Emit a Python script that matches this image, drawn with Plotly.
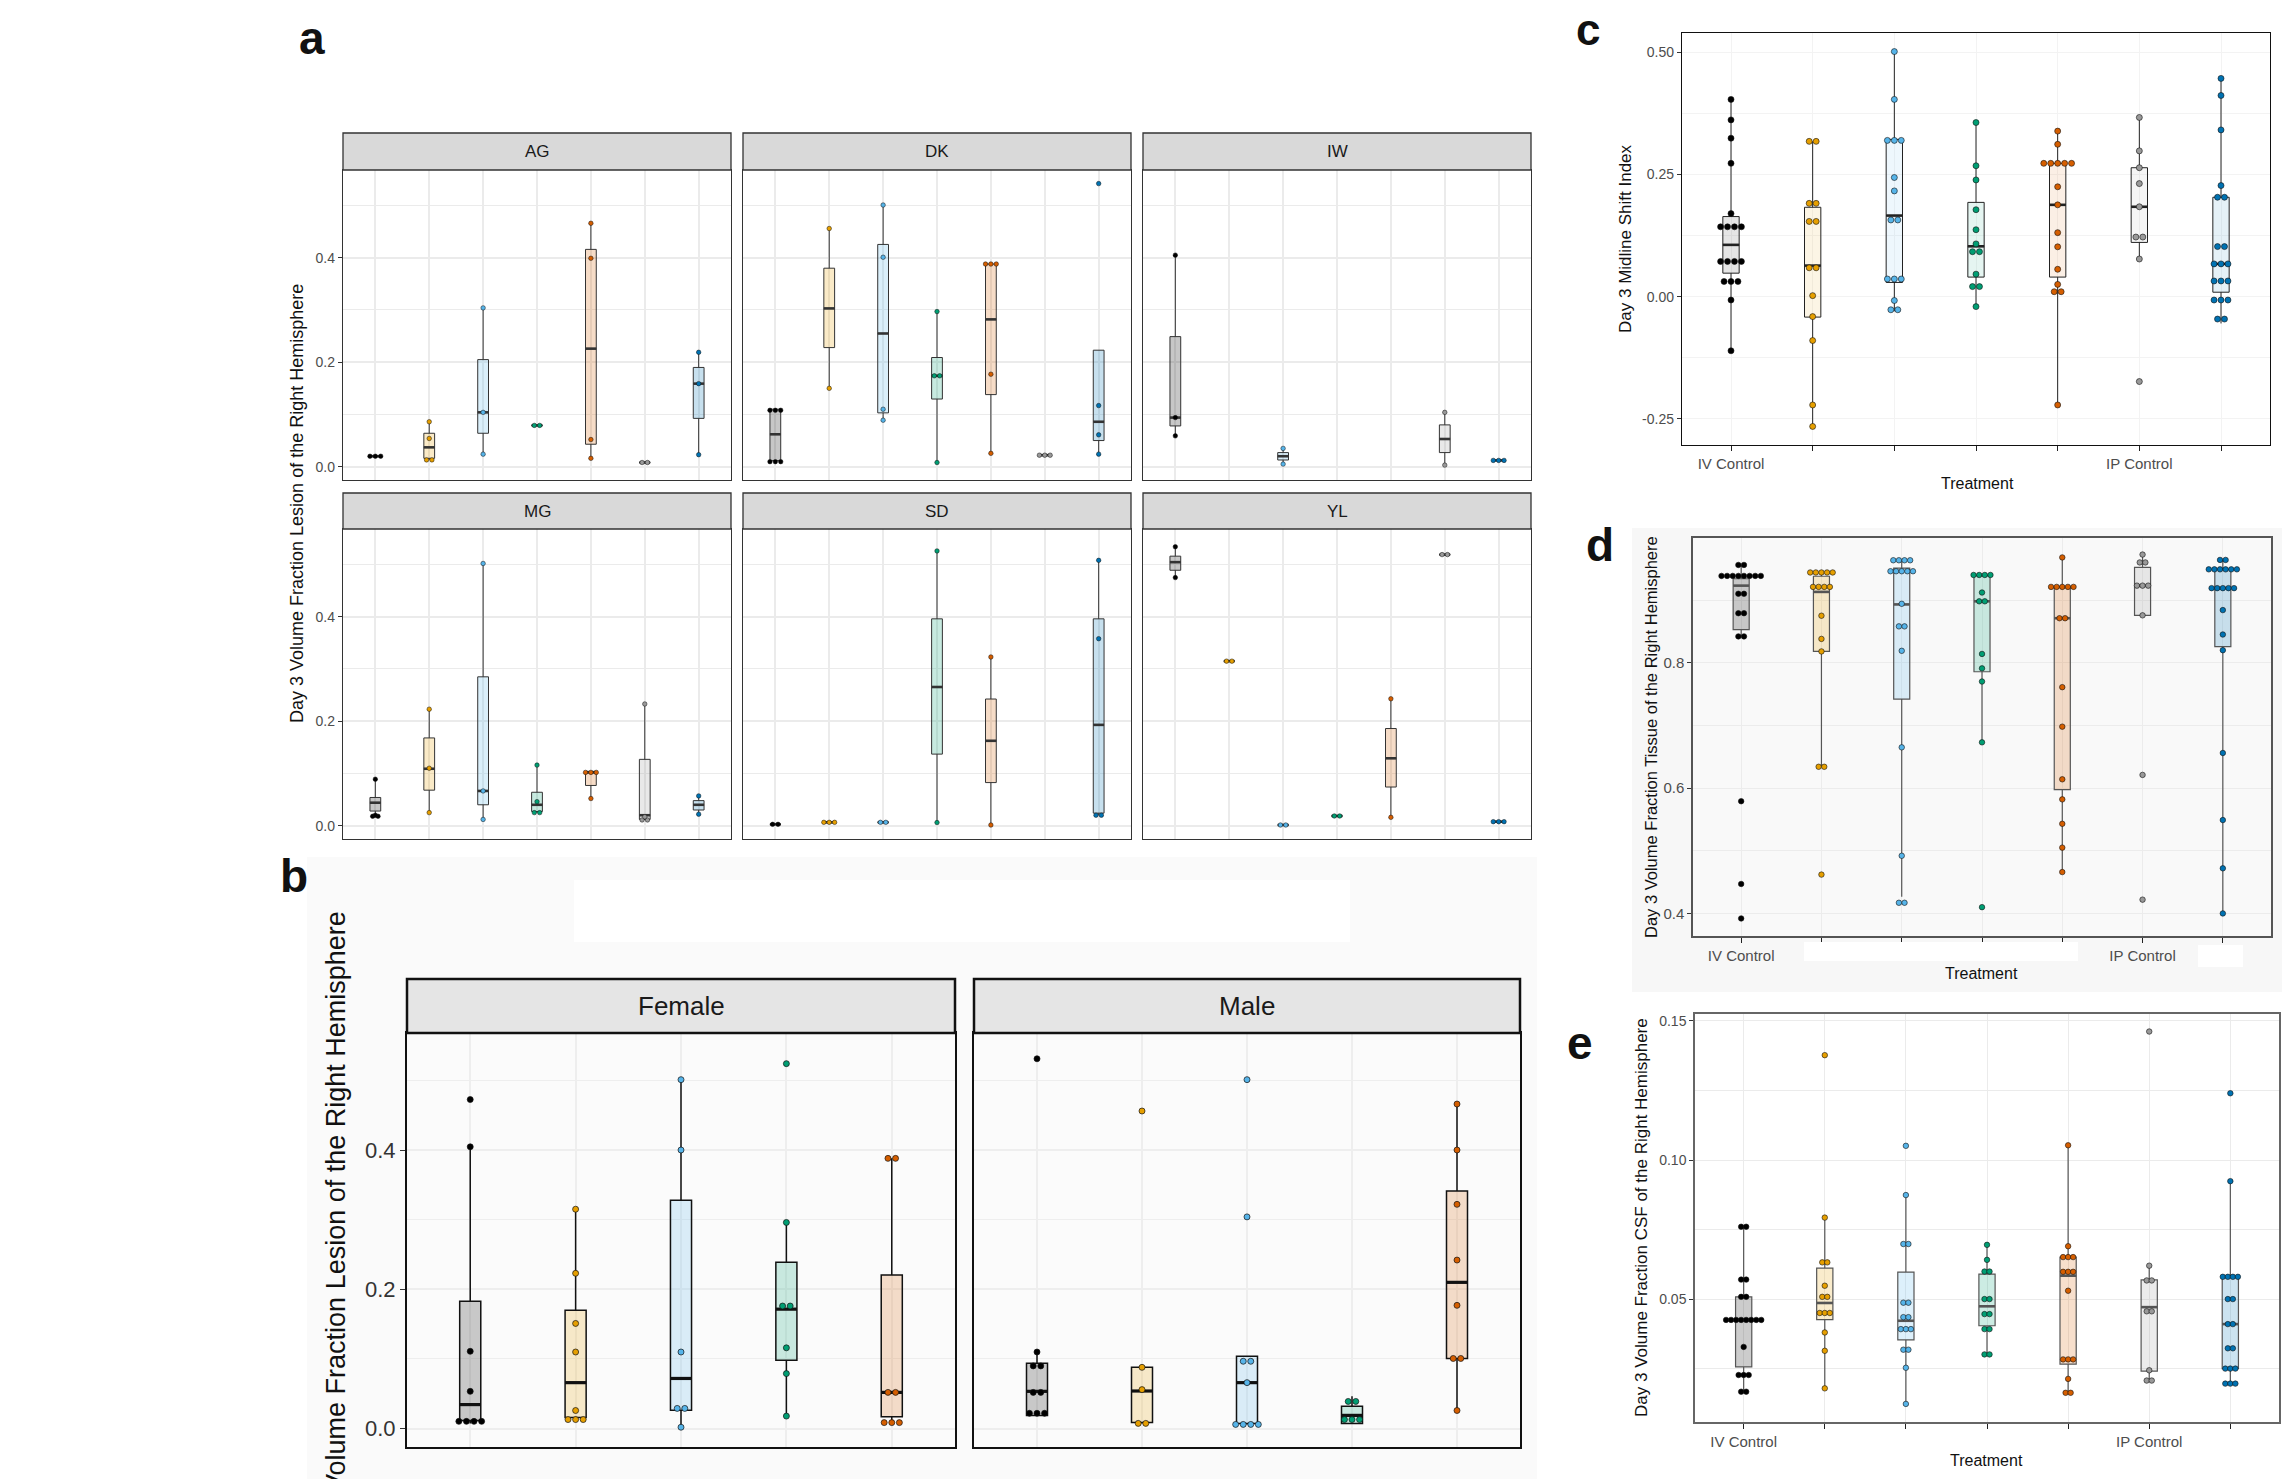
import plotly.graph_objects as go

W, H = 2290, 1479
FONT = "Arial, Liberation Sans, Helvetica, sans-serif"

# ---------------------------------------------------------------- data
# every box: [lower whisker, Q1, median, Q3, upper whisker]; None = no data
treat_ticktext = ["IV Control", "", "", "", "", "IP Control", ""]

# ---- panel a (per-site facets, 7 treatments)
a_facets = ["AG", "DK", "IW", "MG", "SD", "YL"]

AG_stats = [[0.020, 0.020, 0.020, 0.020, 0.020], [0.013, 0.016, 0.037, 0.064, 0.086],
            [0.024, 0.064, 0.104, 0.205, 0.304], [0.079, 0.079, 0.079, 0.079, 0.079],
            [0.016, 0.043, 0.226, 0.416, 0.466], [0.008, 0.008, 0.008, 0.008, 0.008],
            [0.023, 0.0925, 0.159, 0.190, 0.219]]
AG_points = [[0.020, 0.020, 0.020], [0.013, 0.013, 0.054, 0.086], [0.024, 0.104, 0.304],
             [0.079, 0.079], [0.016, 0.052, 0.399, 0.466], [0.008, 0.008], [0.023, 0.159, 0.219]]

DK_stats = [[0.0096, 0.0115, 0.062, 0.110, 0.110], [0.150, 0.228, 0.303, 0.380, 0.456],
            [0.089, 0.103, 0.255, 0.4255, 0.501], [0.008, 0.1295, 0.174, 0.209, 0.297],
            [0.0255, 0.138, 0.282, 0.388, 0.388], [0.022, 0.022, 0.022, 0.022, 0.022],
            [0.024, 0.050, 0.086, 0.223, 0.223]]
DK_points = [[0.0096, 0.0096, 0.0096, 0.108, 0.108, 0.108], [0.150, 0.456],
             [0.089, 0.110, 0.401, 0.501], [0.008, 0.174, 0.174, 0.297],
             [0.0255, 0.177, 0.388, 0.388, 0.388], [0.022, 0.022, 0.022],
             [0.024, 0.061, 0.117, 0.542]]

IW_stats = [[0.059, 0.078, 0.094, 0.249, 0.405], None, [0.005, 0.0128, 0.020, 0.027, 0.035],
            None, None, [0.003, 0.027, 0.053, 0.080, 0.104], [0.012, 0.012, 0.012, 0.012, 0.012]]
IW_points = [[0.059, 0.094, 0.405], [], [0.005, 0.035], [], [], [0.003, 0.104],
             [0.012, 0.012, 0.012]]

MG_stats = [[0.0186, 0.028, 0.044, 0.054, 0.089], [0.025, 0.068, 0.109, 0.168, 0.223],
            [0.012, 0.040, 0.0665, 0.285, 0.502], [0.025, 0.027, 0.040, 0.064, 0.116],
            [0.052, 0.077, 0.102, 0.104, 0.104], [0.011, 0.012, 0.020, 0.127, 0.233],
            [0.022, 0.030, 0.040, 0.048, 0.057]]
MG_points = [[0.018, 0.018, 0.020, 0.089], [0.025, 0.110, 0.223], [0.012, 0.0665, 0.502],
             [0.025, 0.025, 0.046, 0.116], [0.052, 0.102, 0.102, 0.102],
             [0.011, 0.011, 0.017, 0.233], [0.022, 0.057]]

SD_stats = [[0.0026, 0.0026, 0.0026, 0.0026, 0.0026], [0.0064, 0.0064, 0.0064, 0.0064, 0.0064],
            [0.0064, 0.0064, 0.0064, 0.0064, 0.0064], [0.006, 0.137, 0.2655, 0.396, 0.526],
            [0.0013, 0.0825, 0.1625, 0.2425, 0.323], None, [0.020, 0.024, 0.193, 0.396, 0.508]]
SD_points = [[0.0026, 0.0026], [0.0064, 0.0064, 0.0064], [0.0064, 0.0064], [0.006, 0.526],
             [0.0013, 0.323], [], [0.020, 0.020, 0.358, 0.508]]

YL_stats = [[0.475, 0.489, 0.5045, 0.516, 0.534], [0.315, 0.315, 0.315, 0.315, 0.315],
            [0.0013, 0.0013, 0.0013, 0.0013, 0.0013], [0.0186, 0.0186, 0.0186, 0.0186, 0.0186],
            [0.016, 0.074, 0.129, 0.186, 0.243], [0.519, 0.519, 0.519, 0.519, 0.519],
            [0.0077, 0.0077, 0.0077, 0.0077, 0.0077]]
YL_points = [[0.475, 0.534], [0.315, 0.315], [0.0013, 0.0013], [0.0186, 0.0186],
             [0.016, 0.243], [0.519, 0.519], [0.0077, 0.0077, 0.0077]]

a_stats = {"AG": AG_stats, "DK": DK_stats, "IW": IW_stats,
           "MG": MG_stats, "SD": SD_stats, "YL": YL_stats}
a_points = {"AG": AG_points, "DK": DK_points, "IW": IW_points,
            "MG": MG_points, "SD": SD_points, "YL": YL_points}

# ---- panel b (sex facets, 5 treatments)
b_facets = ["Female", "Male"]
female_stats = [[0.0075, 0.0115, 0.0345, 0.183, 0.4046], [0.013, 0.016, 0.066, 0.170, 0.315],
                [0.002, 0.0265, 0.072, 0.328, 0.501], [0.018, 0.098, 0.1715, 0.239, 0.296],
                [0.0086, 0.017, 0.052, 0.2205, 0.388]]
female_points = [[0.0104, 0.0104, 0.0104, 0.0104, 0.0535, 0.111, 0.4046, 0.4725],
                 [0.013, 0.013, 0.013, 0.026, 0.110, 0.151, 0.223, 0.315],
                 [0.002, 0.029, 0.029, 0.110, 0.400, 0.501],
                 [0.018, 0.079, 0.116, 0.176, 0.176, 0.296, 0.524],
                 [0.0086, 0.0086, 0.0086, 0.052, 0.052, 0.388, 0.388]]
male_stats = [[0.019, 0.019, 0.0535, 0.094, 0.110], [0.0075, 0.0086, 0.054, 0.088, 0.088],
              [0.006, 0.0075, 0.066, 0.104, 0.104], [0.0075, 0.0075, 0.019, 0.032, 0.0466],
              [0.026, 0.1007, 0.210, 0.341, 0.466]]
male_points = [[0.022, 0.022, 0.022, 0.052, 0.052, 0.090, 0.090, 0.110, 0.531],
               [0.0075, 0.0075, 0.056, 0.088, 0.456],
               [0.006, 0.006, 0.006, 0.006, 0.066, 0.0967, 0.0967, 0.304, 0.501],
               [0.013, 0.013, 0.013, 0.039, 0.039],
               [0.026, 0.1007, 0.1007, 0.177, 0.242, 0.322, 0.400, 0.466]]

# ---- panel c: midline shift index
c_stats = [[-0.111, 0.048, 0.106, 0.164, 0.404], [-0.266, -0.042, 0.0635, 0.183, 0.318],
           [-0.030, 0.029, 0.166, 0.322, 0.502], [-0.0205, 0.040, 0.103, 0.193, 0.3566],
           [-0.222, 0.040, 0.188, 0.273, 0.339], [0.077, 0.111, 0.184, 0.264, 0.367],
           [-0.055, 0.009, 0.067, 0.2035, 0.447]]
c_points = [[0.404, 0.362, 0.3245, 0.273, 0.170, 0.143, 0.143, 0.143, 0.143, 0.072, 0.072,
             0.072, 0.072, 0.031, 0.031, 0.031, -0.007, -0.111],
            [0.318, 0.318, 0.191, 0.191, 0.154, 0.154, 0.059, 0.059, 0.002, -0.041, -0.090,
             -0.222, -0.266],
            [0.502, 0.404, 0.320, 0.320, 0.320, 0.244, 0.2165, 0.157, 0.157, 0.036, 0.036,
             0.036, -0.008, -0.027, -0.027],
            [0.3566, 0.268, 0.239, 0.178, 0.137, 0.108, 0.092, 0.092, 0.046, 0.0205, 0.0205,
             -0.0205],
            [0.339, 0.312, 0.273, 0.273, 0.273, 0.273, 0.273, 0.225, 0.188, 0.131, 0.102,
             0.056, 0.025, 0.010, 0.010, -0.222],
            [0.367, 0.2985, 0.264, 0.2315, 0.184, 0.122, 0.122, 0.077, -0.174],
            [0.447, 0.412, 0.3415, 0.2275, 0.2035, 0.2035, 0.1025, 0.1025, 0.067, 0.067,
             0.067, 0.032, 0.032, 0.032, -0.007, -0.007, -0.007, -0.046, -0.046]]

# ---- panel d: tissue fraction
d_stats = [[0.842, 0.8527, 0.923, 0.934, 0.956], [0.634, 0.818, 0.913, 0.938, 0.944],
           [0.4266, 0.742, 0.893, 0.951, 0.9635], [0.673, 0.7856, 0.898, 0.939, 0.940],
           [0.466, 0.5976, 0.871, 0.921, 0.968], [0.8756, 0.8756, 0.923, 0.952, 0.9726],
           [0.400, 0.8256, 0.919, 0.949, 0.964]]
d_points = [[0.956, 0.956, 0.9385, 0.9385, 0.9385, 0.9385, 0.9385, 0.9385, 0.9385, 0.9385,
             0.910, 0.910, 0.879, 0.879, 0.842, 0.842, 0.579, 0.447, 0.392],
            [0.944, 0.944, 0.944, 0.944, 0.944, 0.921, 0.921, 0.921, 0.921, 0.875, 0.838,
             0.818, 0.634, 0.634, 0.462],
            [0.9635, 0.9635, 0.9635, 0.9635, 0.946, 0.946, 0.946, 0.946, 0.946, 0.894, 0.858,
             0.858, 0.819, 0.665, 0.492, 0.417, 0.417],
            [0.940, 0.940, 0.940, 0.940, 0.912, 0.898, 0.898, 0.814, 0.791, 0.770, 0.673, 0.410],
            [0.968, 0.921, 0.921, 0.921, 0.921, 0.921, 0.871, 0.871, 0.761, 0.698, 0.614,
             0.582, 0.543, 0.505, 0.466],
            [0.9726, 0.960, 0.960, 0.923, 0.923, 0.923, 0.8756, 0.621, 0.422],
            [0.964, 0.964, 0.949, 0.949, 0.949, 0.949, 0.949, 0.949, 0.919, 0.919, 0.919,
             0.919, 0.919, 0.884, 0.845, 0.820, 0.656, 0.549, 0.472, 0.400]]

# ---- panel e: CSF fraction
e_stats = [[0.0167, 0.0256, 0.0425, 0.0508, 0.076], [0.0179, 0.0426, 0.0486, 0.0611, 0.0793],
           [0.0123, 0.0353, 0.0422, 0.0597, 0.0874], [0.0301, 0.0404, 0.0474, 0.059, 0.0695],
           [0.0163, 0.0266, 0.0584, 0.0651, 0.1053], [0.0207, 0.0241, 0.0471, 0.0569, 0.062],
           [0.0196, 0.025, 0.041, 0.058, 0.0924]]
e_points = [[0.076, 0.076, 0.057, 0.057, 0.0508, 0.0508, 0.0425, 0.0425, 0.0425, 0.0425,
             0.0425, 0.0425, 0.0425, 0.0425, 0.0328, 0.0227, 0.0227, 0.0227, 0.0167, 0.0167],
            [0.1377, 0.0793, 0.0632, 0.0632, 0.0548, 0.0508, 0.0508, 0.045, 0.045, 0.045,
             0.038, 0.0314, 0.0179],
            [0.1051, 0.0874, 0.0698, 0.0698, 0.0487, 0.0487, 0.0435, 0.0435, 0.0392, 0.0392,
             0.0392, 0.0318, 0.0318, 0.0253, 0.0123],
            [0.0695, 0.0641, 0.0599, 0.0599, 0.050, 0.050, 0.0446, 0.0446, 0.0392, 0.0392,
             0.0301, 0.0301],
            [0.1053, 0.069, 0.0651, 0.0651, 0.0651, 0.0598, 0.0598, 0.0598, 0.053, 0.0283,
             0.0283, 0.0283, 0.0213, 0.0163, 0.0163],
            [0.1462, 0.062, 0.0567, 0.0567, 0.0456, 0.0456, 0.0244, 0.0207, 0.0207],
            [0.124, 0.0924, 0.058, 0.058, 0.058, 0.058, 0.050, 0.050, 0.041, 0.041, 0.0323,
             0.0323, 0.025, 0.025, 0.025, 0.0196, 0.0196, 0.0196]]

# ---------------------------------------------------------------- style
PT_COLORS = ["#000000", "#E69F00", "#56B4E9", "#009E73", "#D55E00", "#999999", "#0072B2"]


def rgba(hexc, a):
    h = hexc.lstrip("#")
    r, g, b = int(h[0:2], 16), int(h[2:4], 16), int(h[4:6], 16)
    return f"rgba({r},{g},{b},{a})"


def X(p):
    return p / W


def Y(p):
    return 1 - p / H


fig = go.Figure()
layout = {}
shapes = []
annotations = []
counter = [0]


def make_axes(xpx, ypx, yrange, ncat, ytickvals, yticktext, yminor, show_ylabels,
              tickfont, tickcolor, gridcolor, linecolor, linewidth, xticktext=None,
              xtickfont=None, ticklen=4, bg=None, grid_w=1.5, minor_w=0.8):
    counter[0] += 1
    n = counter[0]
    xa = "xaxis" if n == 1 else f"xaxis{n}"
    ya = "yaxis" if n == 1 else f"yaxis{n}"
    xr = "x" if n == 1 else f"x{n}"
    yr = "y" if n == 1 else f"y{n}"
    xaxis = dict(domain=[X(xpx[0]), X(xpx[1])], anchor=yr, range=[0.4, ncat + 0.6],
                 tickvals=list(range(1, ncat + 1)), showgrid=True, gridcolor=gridcolor,
                 gridwidth=grid_w, zeroline=False, showline=True, linecolor=linecolor,
                 linewidth=linewidth, mirror=True, fixedrange=True)
    if xticktext is None:
        xaxis.update(showticklabels=False, ticks="")
    else:
        xaxis.update(ticktext=xticktext, ticks="outside", ticklen=5, tickwidth=1.2,
                     tickcolor="#222", tickfont=xtickfont)
    yaxis = dict(domain=[Y(ypx[1]), Y(ypx[0])], anchor=xr, range=yrange,
                 tickvals=ytickvals, ticktext=yticktext, showgrid=True, gridcolor=gridcolor,
                 gridwidth=grid_w, zeroline=False, showline=True, linecolor=linecolor,
                 linewidth=linewidth, mirror=True, fixedrange=True,
                 minor=dict(tickvals=yminor, showgrid=True, gridcolor=gridcolor,
                            gridwidth=minor_w, ticks=""))
    if show_ylabels:
        yaxis.update(showticklabels=True, ticks="outside", ticklen=ticklen, tickwidth=1.2,
                     tickcolor="#333", tickfont=dict(family=FONT, size=tickfont, color=tickcolor))
    else:
        yaxis.update(showticklabels=False, ticks="")
    layout[xa] = xaxis
    layout[ya] = yaxis
    if bg is not None:
        shapes.append(dict(type="rect", xref="paper", yref="paper", x0=X(xpx[0]), x1=X(xpx[1]),
                           y0=Y(ypx[1]), y1=Y(ypx[0]), fillcolor=bg, line=dict(width=0),
                           layer="below"))
    return xr, yr


def spread(values, step):
    counts = {}
    for v in values:
        counts[v] = counts.get(v, 0) + 1
    seen = {}
    out = []
    for v in values:
        k = seen.get(v, 0)
        seen[v] = k + 1
        out.append((k - (counts[v] - 1) / 2) * step)
    return out


def add_boxes(xr, yr, stats, points, alpha, line_color, line_w, med_w, dot_step, dot_size,
              dot_line=0.6):
    med_x, med_y = [], []
    for i, st in enumerate(stats):
        pos = i + 1
        if st is None:
            continue
        lo, q1, med, q3, hi = st
        fig.add_trace(go.Box(x=[pos], lowerfence=[lo], q1=[q1], median=[med], q3=[q3],
                             upperfence=[hi], width=0.2, whiskerwidth=0, boxpoints=False,
                             fillcolor=rgba(PT_COLORS[i], alpha),
                             line=dict(color=line_color, width=line_w),
                             xaxis=xr, yaxis=yr, showlegend=False, hoverinfo="skip"))
        med_x += [pos - 0.1, pos + 0.1, None]
        med_y += [med, med, None]
    fig.add_trace(go.Scatter(x=med_x, y=med_y, mode="lines",
                             line=dict(color=line_color, width=med_w), xaxis=xr, yaxis=yr,
                             showlegend=False, hoverinfo="skip"))
    for i, pts in enumerate(points):
        if not pts:
            continue
        offs = spread(pts, dot_step)
        fig.add_trace(go.Scatter(x=[i + 1 + o for o in offs], y=pts, mode="markers",
                                 marker=dict(size=dot_size, color=PT_COLORS[i],
                                             line=dict(color="#111", width=dot_line)),
                                 xaxis=xr, yaxis=yr, showlegend=False, hoverinfo="skip"))


def ytitle(text, xpx, ypx, size):
    annotations.append(dict(text=text, x=X(xpx), y=Y(ypx), xref="paper", yref="paper",
                            textangle=-90, showarrow=False, xanchor="center", yanchor="middle",
                            font=dict(family=FONT, size=size, color="#111")))


def label(text, xpx, ypx, size, color="#111", bold=False):
    t = f"<b>{text}</b>" if bold else text
    annotations.append(dict(text=t, x=X(xpx), y=Y(ypx), xref="paper", yref="paper",
                            showarrow=False, xanchor="center", yanchor="middle",
                            font=dict(family=FONT, size=size, color=color)))


def strip(xpx, ypx, text, fill, line_color, line_w, size):
    shapes.append(dict(type="rect", xref="paper", yref="paper", x0=X(xpx[0]), x1=X(xpx[1]),
                       y0=Y(ypx[1]), y1=Y(ypx[0]), fillcolor=fill,
                       line=dict(color=line_color, width=line_w), layer="above"))
    label(text, (xpx[0] + xpx[1]) / 2, (ypx[0] + ypx[1]) / 2, size, "#1a1a1a")


# ---------------------------------------------------------------- backgrounds
shapes.append(dict(type="rect", xref="paper", yref="paper", x0=X(307), x1=X(1537), y0=Y(1479),
                   y1=Y(857), fillcolor="#fafafa", line=dict(width=0), layer="below"))
shapes.append(dict(type="rect", xref="paper", yref="paper", x0=X(1632), x1=X(2282), y0=Y(992),
                   y1=Y(528), fillcolor="#f7f7f7", line=dict(width=0), layer="below"))

# ---------------------------------------------------------------- panel a
a_cols = [(343, 731), (743, 1131), (1143, 1531)]
a_rows = [((133, 170), (170, 480)), ((493, 529), (529, 839))]
for idx, fac in enumerate(a_facets):
    r, c = divmod(idx, 3)
    strip_px, plot_px = a_rows[r]
    xr, yr = make_axes(a_cols[c], plot_px, [-0.0255, 0.568], 7, [0, 0.2, 0.4],
                       ["0.0", "0.2", "0.4"], [0.1, 0.3, 0.5], c == 0, 14, "#4d4d4d",
                       "#ebebeb", "#333333", 1.3, bg="#ffffff")
    add_boxes(xr, yr, a_stats[fac], a_points[fac], 0.22, "#333333", 1, 2.6, 0.1, 4.5, 0.5)
    strip(a_cols[c], strip_px, fac, "#d9d9d9", "#333333", 1.3, 17)
ytitle("Day 3 Volume Fraction Lesion of the Right Hemisphere", 297, 504, 18)
label("a", 312, 38, 46, "#111", True)

# ---------------------------------------------------------------- panel b
b_cols = [(407, 955), (974, 1520)]
b_stats = {"Female": female_stats, "Male": male_stats}
b_points = {"Female": female_points, "Male": male_points}
shapes.append(dict(type="rect", xref="paper", yref="paper", x0=X(574), x1=X(1350), y0=Y(942),
                   y1=Y(880), fillcolor="#ffffff", line=dict(width=0), layer="below"))
for c, fac in enumerate(b_facets):
    xr, yr = make_axes(b_cols[c], (1033, 1447), [-0.0264, 0.568], 5, [0, 0.2, 0.4],
                       ["0.0", "0.2", "0.4"], [0.1, 0.3, 0.5], c == 0, 22, "#333333",
                       "#eeeeee", "#111111", 2.2, ticklen=5, bg="#fbfbfb")
    add_boxes(xr, yr, b_stats[fac], b_points[fac], 0.2, "#111111", 1.5, 3.2, 0.072, 6, 0.7)
    strip(b_cols[c], (979, 1033), fac, "#e5e5e5", "#111111", 2.5, 26)
ytitle("Day 3 Volume Fraction Lesion of the Right Hemisphere", 336, 1240, 27)
label("b", 294, 876, 46, "#111", True)

# ---------------------------------------------------------------- panel c
xt_font = dict(family=FONT, size=15, color="#4d4d4d")
xr, yr = make_axes((1682, 2270), (33, 445), [-0.304, 0.54], 7, [-0.25, 0, 0.25, 0.5],
                   ["-0.25", "0.00", "0.25", "0.50"], [-0.125, 0.125, 0.375], True, 14,
                   "#4d4d4d", "#f3f3f3", "#111111", 1.4, xticktext=treat_ticktext,
                   xtickfont=xt_font, bg="#ffffff", grid_w=1.2, minor_w=0.8)
add_boxes(xr, yr, c_stats, c_points, 0.1, "#222222", 1, 2.6, 0.085, 6, 0.6)
ytitle("Day 3 Midline Shift Index", 1625, 239, 17)
label("Treatment", 1977, 483, 16)
label("c", 1588, 29, 44, "#111", True)

# ---------------------------------------------------------------- panel d
xr, yr = make_axes((1693, 2271), (538, 936), [0.364, 0.999], 7, [0.4, 0.6, 0.8],
                   ["0.4", "0.6", "0.8"], [0.5, 0.7, 0.9], True, 15, "#4d4d4d",
                   "#ececec", "#555555", 1.5, xticktext=treat_ticktext, xtickfont=xt_font,
                   bg="#f9f9f9", grid_w=1.2, minor_w=0.8)
add_boxes(xr, yr, d_stats, d_points, 0.2, "#555555", 1.2, 2.6, 0.07, 5.5, 0.6)
shapes.append(dict(type="rect", xref="paper", yref="paper", x0=X(1804), x1=X(2078), y0=Y(961),
                   y1=Y(942), fillcolor="#ffffff", line=dict(width=0), layer="above"))
shapes.append(dict(type="rect", xref="paper", yref="paper", x0=X(2198), x1=X(2243), y0=Y(967),
                   y1=Y(945), fillcolor="#ffffff", line=dict(width=0), layer="above"))
ytitle("Day 3 Volume Fraction Tissue of the Right Hemisphere", 1651, 737, 16.5)
label("Treatment", 1981, 973, 16)
label("d", 1600, 545, 46, "#111", True)

# ---------------------------------------------------------------- panel e
xr, yr = make_axes((1695, 2279), (1014, 1422), [0.0058, 0.1525], 7, [0.05, 0.10, 0.15],
                   ["0.05", "0.10", "0.15"], [0.025, 0.075, 0.125], True, 14, "#4d4d4d",
                   "#ebebeb", "#666666", 1.5, xticktext=treat_ticktext, xtickfont=xt_font,
                   bg="#ffffff", grid_w=1.3, minor_w=0.8)
add_boxes(xr, yr, e_stats, e_points, 0.2, "#555555", 1.2, 2.6, 0.062, 5.5, 0.6)
ytitle("Day 3 Volume Fraction CSF of the Right Hemisphere", 1641, 1218, 17)
label("Treatment", 1986, 1460, 16)
label("e", 1580, 1043, 46, "#111", True)

fig.update_layout(width=W, height=H, margin=dict(l=0, r=0, t=0, b=0), autosize=False,
                  paper_bgcolor="#ffffff", plot_bgcolor="rgba(0,0,0,0)",
                  font=dict(family=FONT), showlegend=False, shapes=shapes,
                  annotations=annotations, boxmode="overlay", **layout)
fig.write_html("out.html", config={"displayModeBar": False})
